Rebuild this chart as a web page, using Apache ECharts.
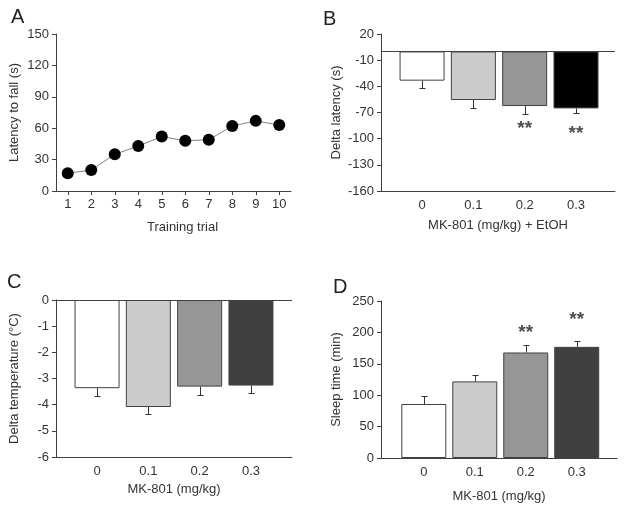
<!DOCTYPE html>
<html><head><meta charset="utf-8">
<script src="https://cdn.jsdelivr.net/npm/echarts@6/dist/echarts.min.js"></script>
<style>html,body{margin:0;padding:0;background:#fff}#c{width:624px;height:508px}</style>
</head><body><div id="c"></div>
<script>
// ---- data ----
const trials = ['1','2','3','4','5','6','7','8','9','10'];
const latency = [17, 20, 35, 43, 52, 48, 49, 62, 67, 63];

const doses = ['0', '0.1', '0.2', '0.3'];

const deltaLatency = [-33.5, -55.7, -62.6, -65.3];
const deltaLatencyErr = [8.4, 9.6, 9.0, 5.7];
const deltaLatencySigY = [null, null, -85, -91];

const deltaTemp = [-3.37, -4.09, -3.31, -3.27];
const deltaTempErr = [0.28, 0.28, 0.33, 0.29];

const sleepTime = [86, 122, 168, 177];
const sleepErr = [12, 10, 12, 9];
const sleepSigY = [null, null, 204, 225];

const sigText = '**';
const colorsB = ['#ffffff', '#cccccc', '#969696', '#000000'];
const colorsCD = ['#ffffff', '#cccccc', '#969696', '#404040'];

// ---- styles ----
const FONT = 'Liberation Sans, Arial, sans-serif';
const AX = '#404040';
const TXT = '#333333';

function yAx(grid, min, max, interval, name, gap) {
  return {
    type: 'value', gridIndex: grid, min: min, max: max, interval: interval,
    name: name, nameLocation: 'middle', nameGap: gap,
    nameTextStyle: {color: TXT, fontSize: 13, fontFamily: FONT},
    axisLine: {show: true, onZero: false, lineStyle: {color: AX, width: 1}},
    axisTick: {show: true, length: 4, lineStyle: {color: AX}},
    axisLabel: {color: TXT, fontSize: 13, fontFamily: FONT, margin: 7},
    splitLine: {show: false}
  };
}
function xValAx(grid, min, max, name, gap) {
  return {
    type: 'value', gridIndex: grid, min: min, max: max,
    name: name, nameLocation: 'middle', nameGap: gap,
    nameTextStyle: {color: TXT, fontSize: 13, fontFamily: FONT},
    axisLine: {show: true, onZero: false, lineStyle: {color: AX, width: 1}},
    axisTick: {show: false},
    axisLabel: {color: TXT, fontSize: 13, fontFamily: FONT, margin: 8,
      customValues: doses.map((d, i) => i), formatter: v => doses[v] ?? ''},
    splitLine: {show: false}
  };
}
function barSeries(idx, vals, colors) {
  return {
    type: 'bar', xAxisIndex: idx, yAxisIndex: idx, barWidth: 45,
    data: vals.map((v, i) => ({value: [i, v], itemStyle: {color: colors[i]}})),
    itemStyle: {borderColor: AX, borderWidth: 1},
    markLine: {silent: true, symbol: ['none', 'none'], label: {show: false},
      lineStyle: {color: AX, type: 'solid', width: 1}, data: [{yAxis: 0}]},
    z: 2
  };
}
function errSeries(idx, vals, errs) {
  return {
    type: 'custom', xAxisIndex: idx, yAxisIndex: idx, z: 3,
    data: vals.map((v, i) => [i, v, errs[i]]),
    renderItem: function (params, api) {
      const v = api.value(1), e = api.value(2);
      const dir = v < 0 ? -1 : 1;
      const p0 = api.coord([api.value(0), v]);
      const p1 = api.coord([api.value(0), v + dir * e]);
      const x = Math.round(p0[0]) + 0.5;
      const y1 = Math.round(p1[1]) + 0.5;
      return {type: 'group', children: [
        {type: 'line', shape: {x1: x, y1: p0[1], x2: x, y2: y1}, style: {stroke: '#333', lineWidth: 1}},
        {type: 'line', shape: {x1: x - 3, y1: y1, x2: x + 3, y2: y1}, style: {stroke: '#333', lineWidth: 1}}
      ]};
    }
  };
}
function sigSeries(idx, ys) {
  return {
    type: 'scatter', xAxisIndex: idx, yAxisIndex: idx, symbolSize: 0, z: 4,
    data: ys.map((y, i) => y == null ? null : [i, y]).filter(d => d),
    label: {show: true, position: 'inside', formatter: sigText, color: '#222',
      fontSize: 19, fontWeight: 'bold', fontFamily: FONT, offset: [0, 3]}
  };
}
function letter(t, x, y) {
  return {type: 'text', left: x, top: y, style: {text: t, font: '20px ' + FONT, fill: '#222'}};
}

const chart = echarts.init(document.getElementById('c'), null, {renderer: 'canvas'});
chart.setOption({
  animation: false,
  backgroundColor: '#ffffff',
  grid: [
    {left: 56, top: 34, width: 235, height: 157},
    {left: 381, top: 34, width: 234, height: 157},
    {left: 56, top: 300, width: 236, height: 157},
    {left: 381, top: 301, width: 236, height: 157}
  ],
  graphic: [letter('A', 11, 7), letter('B', 323, 9), letter('C', 7, 272), letter('D', 333, 277)],
  xAxis: [
    {type: 'category', gridIndex: 0, data: trials, boundaryGap: true,
      name: 'Training trial', nameLocation: 'middle', nameGap: 30,
      nameTextStyle: {color: TXT, fontSize: 13, fontFamily: FONT, padding: [0, 0, 0, 18]},
      axisLine: {show: true, onZero: false, lineStyle: {color: AX, width: 1}},
      axisTick: {show: true, alignWithLabel: true, length: 4, lineStyle: {color: AX}},
      axisLabel: {color: TXT, fontSize: 13, fontFamily: FONT, margin: 7},
      splitLine: {show: false}},
    xValAx(1, -0.8, 3.76, 'MK-801 (mg/kg) + EtOH', 28),
    xValAx(2, -0.8, 3.8, 'MK-801 (mg/kg)', 26),
    xValAx(3, -0.84, 3.79, 'MK-801 (mg/kg)', 32)
  ],
  yAxis: [
    yAx(0, 0, 150, 30, 'Latency to fall (s)', 35),
    yAx(1, -160, 20, 30, 'Delta latency (s)', 38),
    yAx(2, -6, 0, 1, 'Delta temperature (°C)', 35),
    yAx(3, 0, 250, 50, 'Sleep time (min)', 38)
  ],
  series: [
    {type: 'line', xAxisIndex: 0, yAxisIndex: 0, data: latency,
      lineStyle: {color: '#808080', width: 1}, symbol: 'circle', symbolSize: 12,
      itemStyle: {color: '#000000'}},
    barSeries(1, deltaLatency, colorsB),
    errSeries(1, deltaLatency, deltaLatencyErr),
    sigSeries(1, deltaLatencySigY),
    barSeries(2, deltaTemp, colorsCD),
    errSeries(2, deltaTemp, deltaTempErr),
    barSeries(3, sleepTime, colorsCD),
    errSeries(3, sleepTime, sleepErr),
    sigSeries(3, sleepSigY)
  ]
});
</script>
</body></html>
